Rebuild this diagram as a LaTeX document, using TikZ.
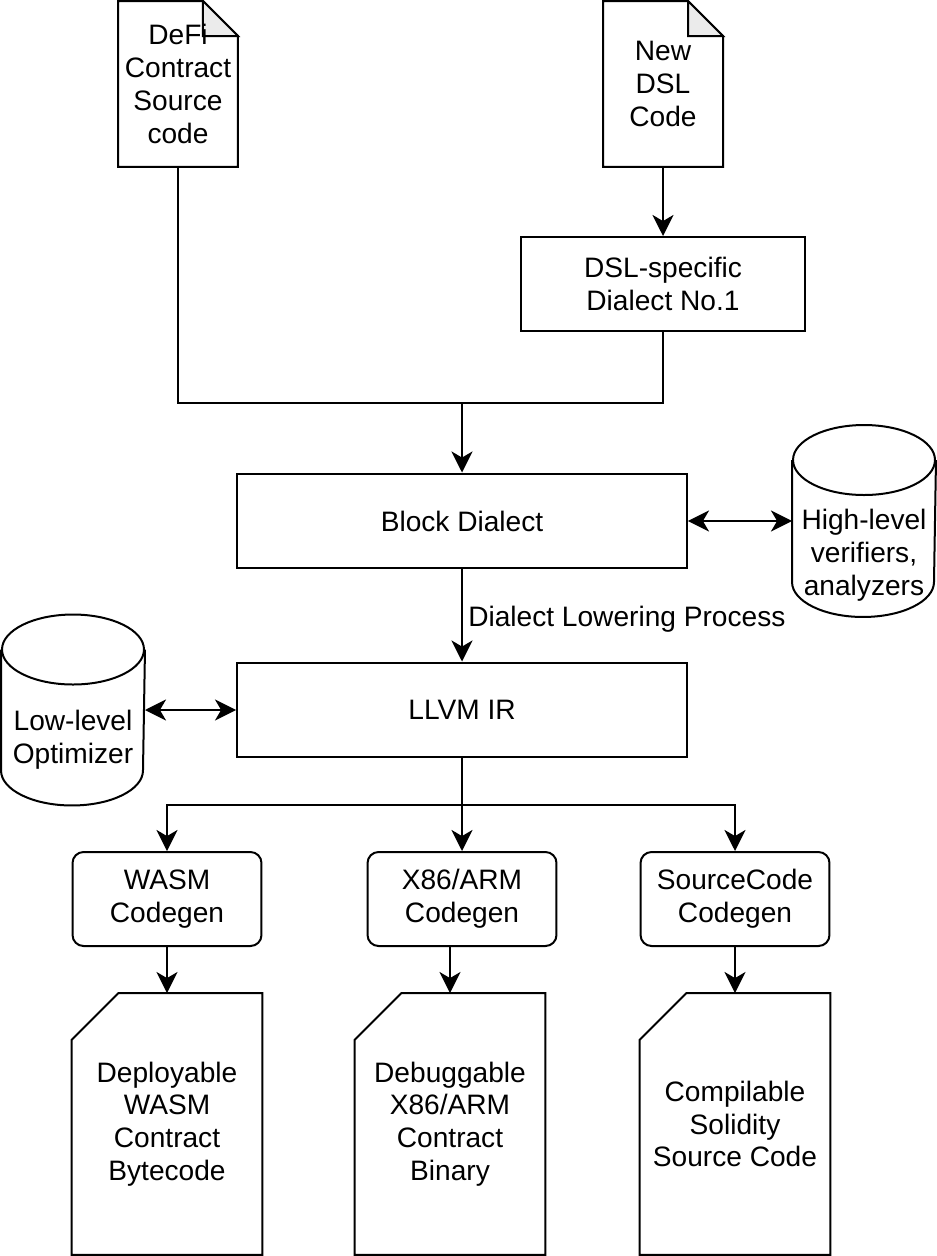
\documentclass[tikz,border=0pt]{standalone}
\usepackage{fontspec}
\setmainfont{Liberation Sans}
\usepackage{tikz}
\usetikzlibrary{arrows.meta}
\definecolor{foldgray}{RGB}{235,235,235}
\newcommand{\diafont}{\fontsize{16}{18.7}\selectfont}
\pgfdeclarelayer{background}
\pgfsetlayers{background,main}

\begin{document}
\begin{tikzpicture}[x=0.02cm,y=0.02cm,line width=0.04cm,
    every node/.style={font=\diafont,align=center},
    box/.style={draw,minimum width=9cm,minimum height=1.9cm},
    genbox/.style={draw,rounded corners=0.22cm,minimum width=3.78cm,minimum height=1.88cm},
    shapebox/.style={minimum width=#1,inner sep=0pt},
    arr/.style={-{Stealth[length=12pt,width=12pt,inset=3.5pt]}},
    arrs/.style={{Stealth[length=12pt,width=12pt,inset=3.5pt]}-{Stealth[length=12pt,width=12pt,inset=3.5pt]}}]
    \useasboundingbox (0,0) rectangle (936,-1256);

    \node[shapebox=2.36cm,minimum height=3.28cm] (defi) at (178,-84) {DeFi\\Contract\\Source\\code};
    \node[shapebox=2.36cm,minimum height=3.28cm] (newdsl) at (663,-84) {New\\DSL\\Code};
    \node[draw,minimum width=5.68cm,minimum height=1.88cm] (dsl) at (663,-284) {DSL-specific\\Dialect No.1};
    \node[box] (block) at (462,-521) {Block Dialect};
    \node[box] (llvm) at (462,-710) {LLVM IR};
    \node[shapebox=2.84cm,minimum height=3.8cm] (hlv) at (864,-521) {};
    \node (hlvtext) at (864,-555) {High-level\\verifiers,\\analyzers};
    \node[shapebox=2.84cm,minimum height=3.78cm] (lopt) at (73,-710) {};
    \node (lopttext) at (73,-740) {Low-level\\Optimizer};
    \node[genbox] (wasmgen) at (167,-899) {WASM\\Codegen};
    \node[genbox] (x86gen) at (462,-899) {X86/ARM\\Codegen};
    \node[genbox] (srcgen) at (735,-899) {SourceCode\\Codegen};
    \node[shapebox=3.78cm,minimum height=5.2cm] (wasmdoc) at (167,-1124) {Deployable\\WASM\\Contract\\Bytecode};
    \node[shapebox=3.78cm,minimum height=5.2cm] (x86doc) at (450,-1124) {Debuggable\\X86/ARM\\Contract\\Binary};
    \node[shapebox=3.78cm,minimum height=5.2cm] (srcdoc) at (735,-1124) {Compilable\\Solidity\\Source Code};

    \coordinate (merge) at (462,-403);
    \coordinate (split) at (462,-805);
    \draw[arr] (newdsl.south) -- (dsl.north);
    \draw (defi.south) |- (merge);
    \draw (dsl.south) |- (merge);
    \draw[arr] (merge) -- (block.north);
    \draw[arrs] (block.east) -- (block.east -| hlv.west);
    \draw[arr] (block.south) -- node[right,inner sep=3pt,yshift=-0.08cm] {Dialect Lowering Process} (llvm.north);
    \draw[arrs] (lopt.east) -- (lopt.east -| llvm.west);
    \draw (llvm.south) -- (split);
    \draw[arr] (split) -| (wasmgen.north);
    \draw[arr] (split) -- (x86gen.north);
    \draw[arr] (split) -| (srcgen.north);
    \draw[arr] (wasmgen.south) -- (wasmdoc.north);
    \draw[arr] (x86gen.south -| x86doc.north) -- (x86doc.north);
    \draw[arr] (srcgen.south) -- (srcdoc.north);

    \begin{pgfonlayer}{background}
    \begin{scope}[line width=0.04cm]
    \foreach \d in {defi,newdsl} {
      \draw (\d.north west) -- ([xshift=-0.7cm]\d.north east) -- ([yshift=-0.7cm]\d.north east)
        -- (\d.south east) -- (\d.south west) -- cycle;
      \draw[fill=foldgray] ([xshift=-0.7cm]\d.north east) -- ([xshift=-0.7cm,yshift=-0.7cm]\d.north east)
        -- ([yshift=-0.7cm]\d.north east) -- cycle;
    }
    \foreach \d in {wasmdoc,x86doc,srcdoc}
      \draw ([xshift=0.94cm]\d.north west) -- (\d.north east) -- (\d.south east)
        -- (\d.south west) -- ([yshift=-0.94cm]\d.north west) -- cycle;
    \foreach \c in {hlv,lopt} {
      \draw ([yshift=-0.7cm]\c.north west) -- ([yshift=0.7cm]\c.south west)
        arc[start angle=180,end angle=360,x radius=1.42cm,y radius=0.7cm]
        -- ([yshift=-0.7cm]\c.north east);
      \draw ([yshift=-0.7cm]\c.north) ellipse[x radius=1.42cm,y radius=0.7cm];
    }
    \end{scope}
    \end{pgfonlayer}
  \end{tikzpicture}
\end{document}
